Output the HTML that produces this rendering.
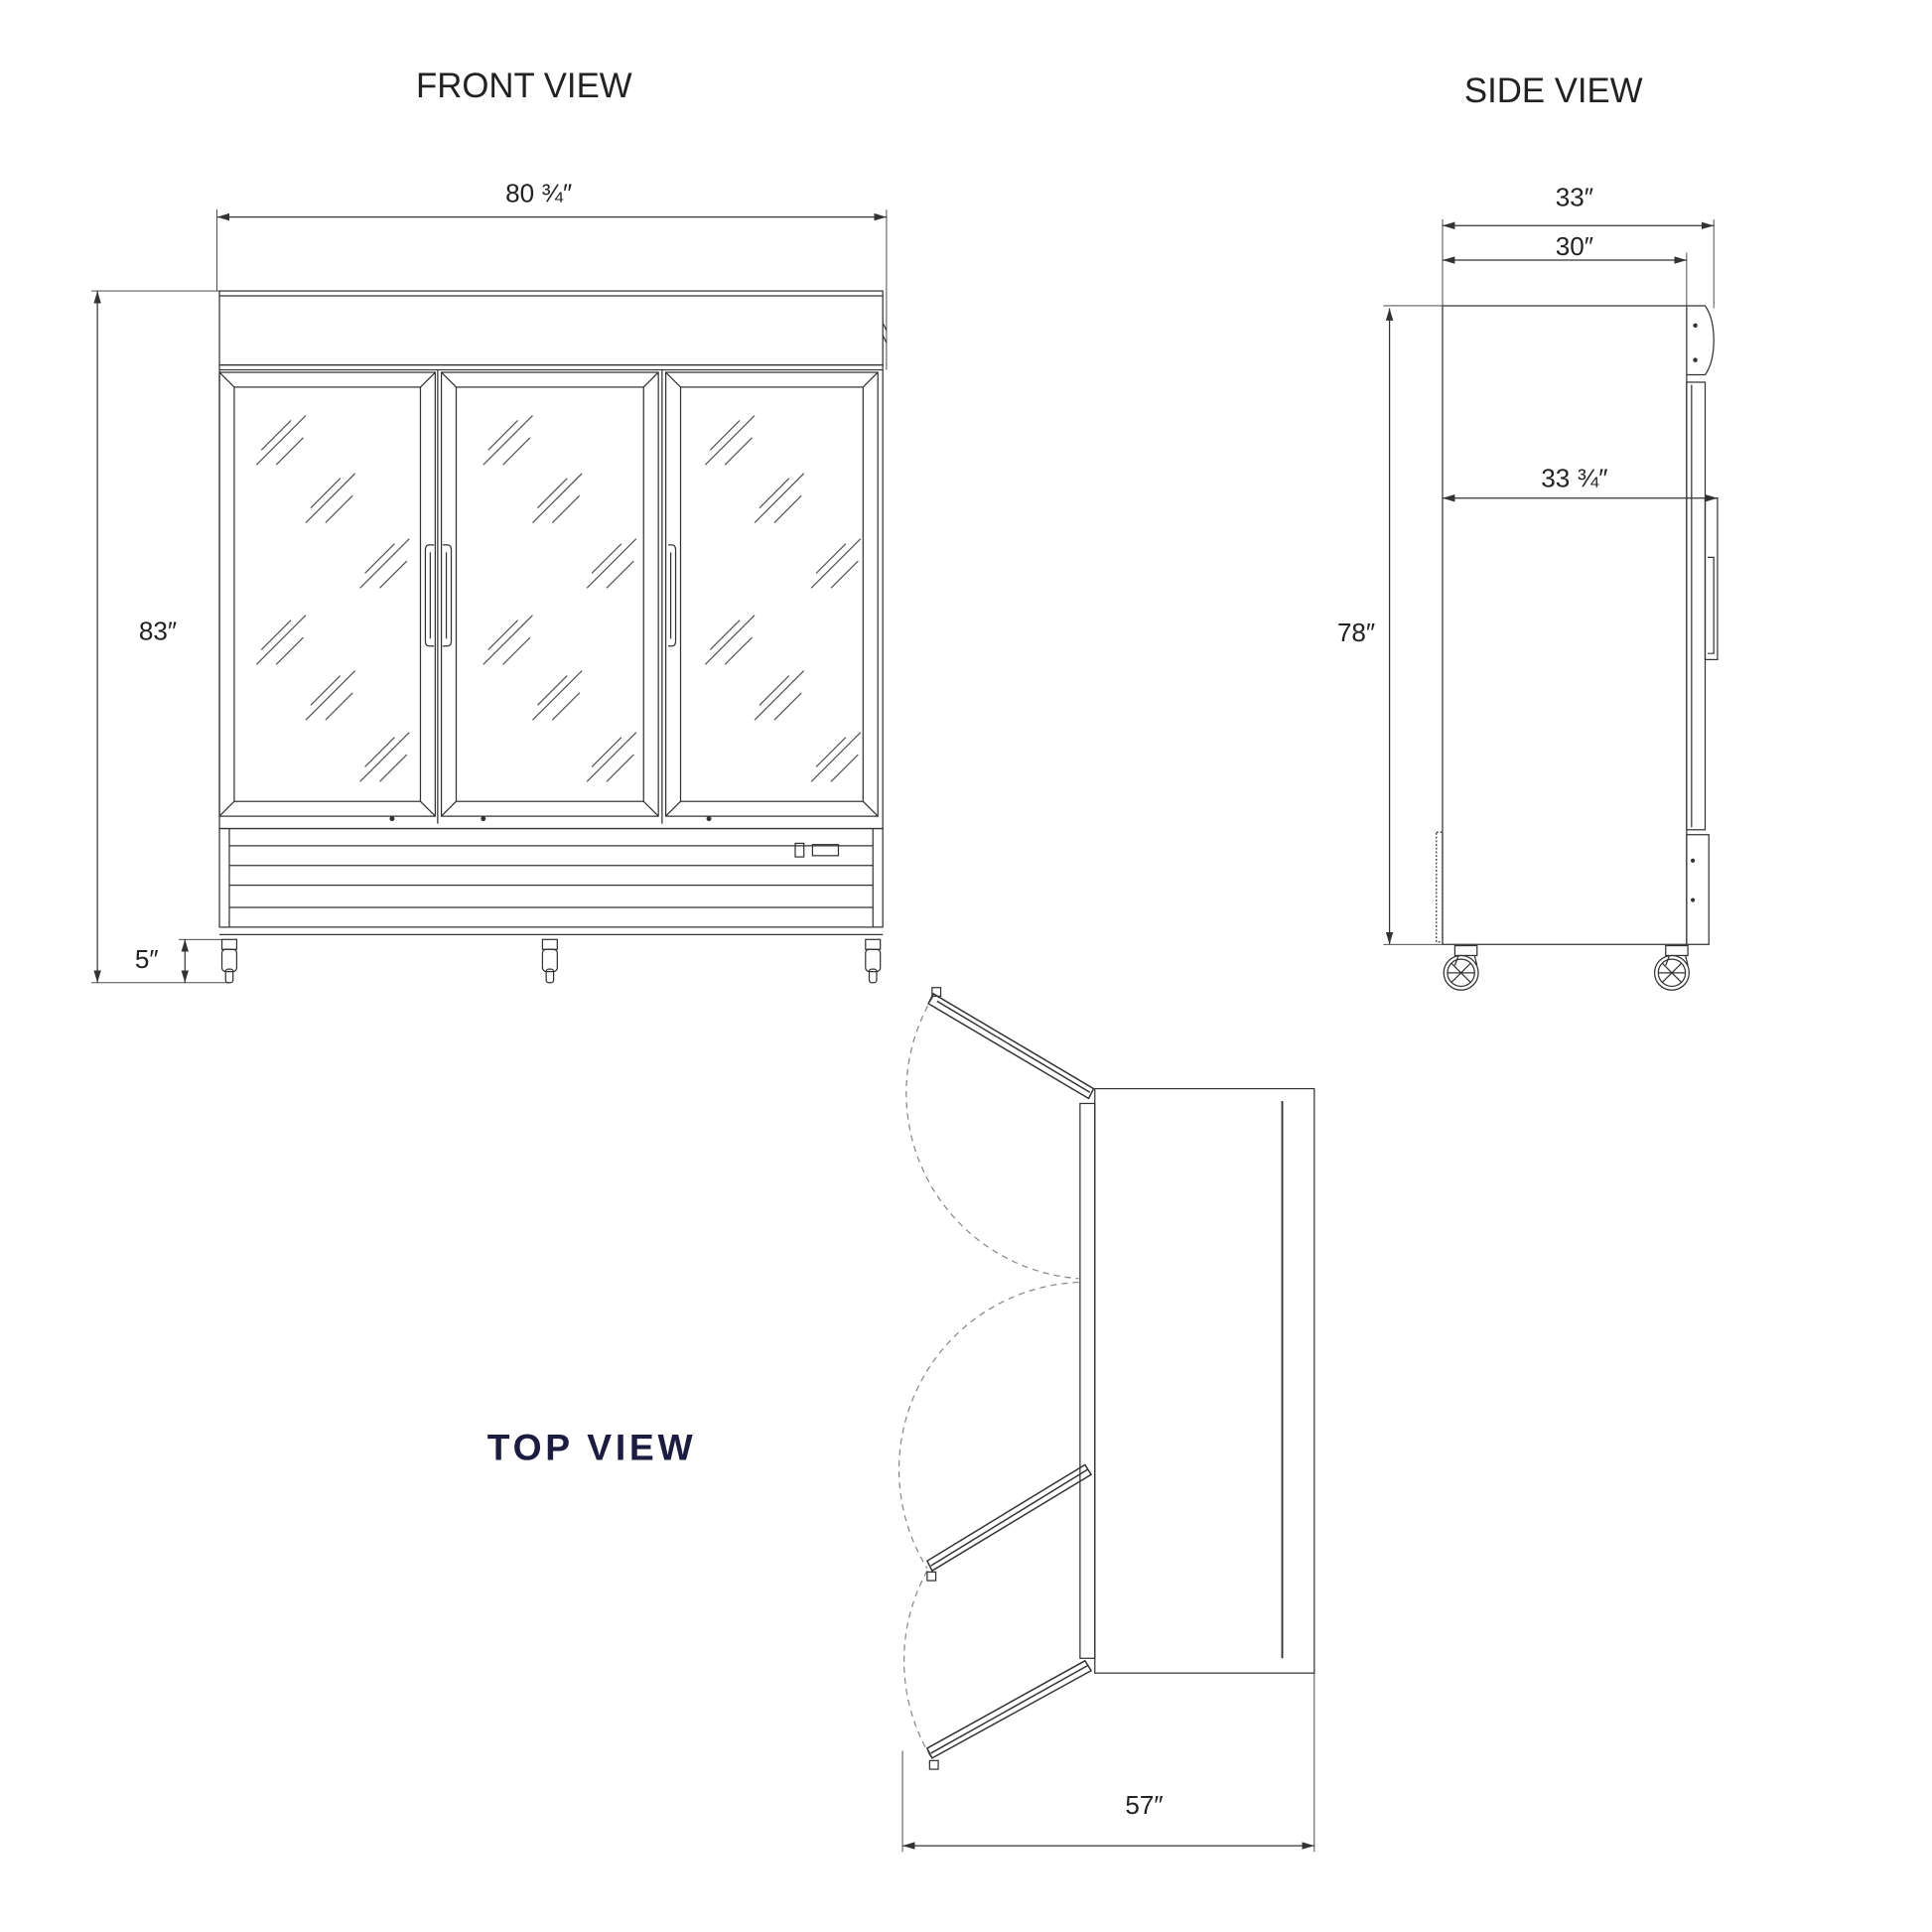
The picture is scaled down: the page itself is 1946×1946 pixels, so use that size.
<!DOCTYPE html>
<html><head><meta charset="utf-8"><style>
html,body{margin:0;padding:0;background:#fff}
svg{display:block}
text{font-family:"Liberation Sans",sans-serif;fill:#222}
</style></head><body>
<svg width="1946" height="1946" viewBox="0 0 1567 1567" xmlns="http://www.w3.org/2000/svg">
<defs>
<marker id="a" viewBox="0 0 10 6" refX="10" refY="3" markerWidth="10" markerHeight="6" orient="auto-start-reverse" markerUnits="userSpaceOnUse"><path d="M0,0L10,3L0,6z" fill="#333"/></marker>
<g id="refl" stroke="#555" stroke-width="1" fill="none">
<line x1="-20" y1="10" x2="4" y2="-14"/><line x1="-24" y1="22" x2="16" y2="-18"/><line x1="-8" y1="22" x2="14" y2="0"/>
</g>
</defs>
<g fill="none" stroke="#333" stroke-width="1">
<line x1="176" y1="170" x2="176" y2="236" stroke-width="0.7"/>
<line x1="719" y1="170" x2="719" y2="300" stroke-width="0.7"/>
<line x1="176" y1="176" x2="719" y2="176" marker-start="url(#a)" marker-end="url(#a)"/>
<line x1="74" y1="236" x2="178" y2="236" stroke-width="0.7"/>
<line x1="74" y1="797" x2="186" y2="797" stroke-width="0.7"/>
<line x1="79" y1="236" x2="79" y2="797" marker-start="url(#a)" marker-end="url(#a)"/>
<line x1="145" y1="762" x2="180" y2="762" stroke-width="0.7"/>
<line x1="150" y1="762" x2="150" y2="797" marker-start="url(#a)" marker-end="url(#a)"/>
<rect x="178" y="236" width="538" height="60"/>
<line x1="178" y1="240" x2="716" y2="240"/>
<rect x="178" y="296" width="538" height="376"/>
<line x1="178" y1="300" x2="716" y2="300"/>
<g>
<rect x="178" y="302" width="175" height="360"/>
<rect x="190" y="314" width="151" height="336"/>
<line x1="178" y1="302" x2="190" y2="314"/><line x1="353" y1="302" x2="341" y2="314"/><line x1="178" y1="662" x2="190" y2="650"/><line x1="353" y1="662" x2="341" y2="650"/>
<rect x="358" y="302" width="176" height="360"/>
<rect x="370" y="314" width="152" height="336"/>
<line x1="358" y1="302" x2="370" y2="314"/><line x1="534" y1="302" x2="522" y2="314"/><line x1="358" y1="662" x2="370" y2="650"/><line x1="534" y1="662" x2="522" y2="650"/>
<rect x="540" y="302" width="172" height="360"/>
<rect x="552" y="314" width="148" height="336"/>
<line x1="540" y1="302" x2="552" y2="314"/><line x1="712" y1="302" x2="700" y2="314"/><line x1="540" y1="662" x2="552" y2="650"/><line x1="712" y1="662" x2="700" y2="650"/>
<line x1="355" y1="300" x2="355" y2="668"/><line x1="537" y1="300" x2="537" y2="668"/>
<path d="M352,442 h-4 q-3,0 -3,4 v74 q0,4 3,4 h4"/><path d="M349,448 v70"/>
<path d="M359,442 h4 q3,0 3,4 v74 q0,4 -3,4 h-4"/><path d="M362,448 v70"/>
<path d="M542,442 h3 q3,0 3,4 v74 q0,4 -3,4 h-3"/><path d="M544,448 v70"/>
</g>
<circle cx="318" cy="664" r="1.5" fill="#333"/><circle cx="392" cy="664" r="1.5" fill="#333"/><circle cx="575" cy="664" r="1.5" fill="#333"/>
<rect x="178" y="672" width="538" height="80"/>
<line x1="186" y1="672" x2="186" y2="752"/><line x1="708" y1="672" x2="708" y2="752"/>
<line x1="186" y1="686" x2="708" y2="686"/><line x1="186" y1="702" x2="708" y2="702"/><line x1="186" y1="718" x2="708" y2="718"/><line x1="186" y1="736" x2="708" y2="736"/>
<line x1="178" y1="758" x2="716" y2="758"/>
<rect x="645" y="684" width="7" height="11"/><rect x="659" y="685" width="21" height="9"/>
<line x1="716" y1="262" x2="719" y2="268"/><line x1="716" y1="272" x2="719" y2="278"/>
<g id="cas"><rect x="180" y="762" width="12" height="8"/><rect x="180" y="770" width="12" height="18" rx="3"/><rect x="183" y="786" width="6" height="11" rx="2"/></g>
<use href="#cas" x="260"/><use href="#cas" x="522"/>
</g>
<g>
<use href="#refl" x="232" y="355"/><use href="#refl" x="272" y="402"/><use href="#refl" x="316" y="455"/><use href="#refl" x="232" y="517"/><use href="#refl" x="272" y="562"/><use href="#refl" x="316" y="612"/>
<use href="#refl" x="416" y="355"/><use href="#refl" x="456" y="402"/><use href="#refl" x="500" y="455"/><use href="#refl" x="416" y="517"/><use href="#refl" x="456" y="562"/><use href="#refl" x="500" y="612"/>
<use href="#refl" x="596" y="355"/><use href="#refl" x="636" y="402"/><use href="#refl" x="682" y="455"/><use href="#refl" x="596" y="517"/><use href="#refl" x="636" y="562"/><use href="#refl" x="682" y="612"/>
</g>
<text x="425" y="79" font-size="28" text-anchor="middle">FRONT VIEW</text>
<text x="437" y="164" font-size="21" text-anchor="middle">80 ¾″</text>
<text x="128" y="519" font-size="21" text-anchor="middle">83″</text>
<text x="119" y="785" font-size="21" text-anchor="middle">5″</text>

<g fill="none" stroke="#333" stroke-width="1">
<line x1="1170" y1="178" x2="1170" y2="248" stroke-width="0.7"/>
<line x1="1390" y1="178" x2="1390" y2="250" stroke-width="0.7"/>
<line x1="1368" y1="205" x2="1368" y2="248" stroke-width="0.7"/>
<line x1="1170" y1="183" x2="1390" y2="183" marker-start="url(#a)" marker-end="url(#a)"/>
<line x1="1170" y1="211" x2="1368" y2="211" marker-start="url(#a)" marker-end="url(#a)"/>
<line x1="1170" y1="404" x2="1393" y2="404" marker-start="url(#a)" marker-end="url(#a)"/>
<line x1="1122" y1="248" x2="1220" y2="248" stroke-width="0.7"/>
<line x1="1122" y1="766" x2="1170" y2="766" stroke-width="0.7"/>
<line x1="1127" y1="250" x2="1127" y2="766" marker-start="url(#a)" marker-end="url(#a)"/>
<rect x="1170" y="248" width="198" height="518"/>
<path d="M1368,248 h15 q7,10 7,28 q0,18 -7,28 h-15"/>
<circle cx="1375" cy="264" r="1.3" fill="#333"/><circle cx="1375" cy="292" r="1.3" fill="#333"/>
<rect x="1368" y="310" width="15" height="363"/><line x1="1372" y1="312" x2="1372" y2="671"/>
<rect x="1383" y="404" width="10" height="131"/><path d="M1385,452 h5 v78 h-5"/>
<rect x="1368" y="677" width="18" height="89"/>
<circle cx="1373" cy="698" r="1.2" fill="#333"/><circle cx="1373" cy="730" r="1.2" fill="#333"/>
<rect x="1165" y="675" width="5" height="89" stroke-dasharray="1.5 1.5"/>
<g id="wh"><rect x="1180" y="767" width="18" height="8"/><path d="M1183,775 l-3,8 M1196,775 l2,8"/><circle cx="1185" cy="789" r="14"/><circle cx="1185" cy="789" r="11"/><path d="M1177,781 l16,16 M1193,781 l-16,16 M1174,789 h22"/></g>
<use href="#wh" x="171"/>
</g>
<text x="1260" y="83" font-size="28" text-anchor="middle">SIDE VIEW</text>
<text x="1277" y="167" font-size="21" text-anchor="middle">33″</text>
<text x="1277" y="207" font-size="21" text-anchor="middle">30″</text>
<text x="1277" y="395" font-size="21" text-anchor="middle">33 ¾″</text>
<text x="1100" y="520" font-size="21" text-anchor="middle">78″</text>

<g fill="none" stroke="#333" stroke-width="1">
<rect x="888" y="883" width="178" height="474"/>
<line x1="1040" y1="893" x2="1040" y2="1345" stroke-width="1.5"/>
<rect x="876" y="895" width="12" height="450"/>
<g stroke="#888" stroke-dasharray="5 4">
<path d="M757,808 A151,151 0 0,0 875,1037"/>
<path d="M875,1040 A152,152 0 0,0 752,1272"/>
<path d="M752,1274 A151,151 0 0,0 755,1425"/>
</g>
<g stroke-width="1.2">
<path d="M757,806 L887,883 L883,891 L753,814 Z"/><line x1="760" y1="812" x2="884" y2="886"/>
<path d="M752,1266 L880,1188 L885,1196 L756,1274 Z"/><line x1="755" y1="1270" x2="882" y2="1192"/>
<path d="M752,1418 L880,1347 L885,1355 L756,1426 Z"/><line x1="755" y1="1422" x2="882" y2="1351"/>
</g>
<rect x="756" y="801" width="7" height="7"/><rect x="752" y="1275" width="7" height="7"/><rect x="754" y="1428" width="7" height="7"/>
<line x1="732" y1="1420" x2="732" y2="1502" stroke-width="0.7"/>
<line x1="1066" y1="1357" x2="1066" y2="1502" stroke-width="0.7"/>
<line x1="732" y1="1497" x2="1066" y2="1497" marker-start="url(#a)" marker-end="url(#a)"/>
</g>
<text x="928" y="1471" font-size="21" text-anchor="middle">57″</text>
<text x="480" y="1184" font-size="30" font-weight="bold" text-anchor="middle" letter-spacing="3" style="fill:#1c1c40">TOP VIEW</text>
</svg>
</body></html>
